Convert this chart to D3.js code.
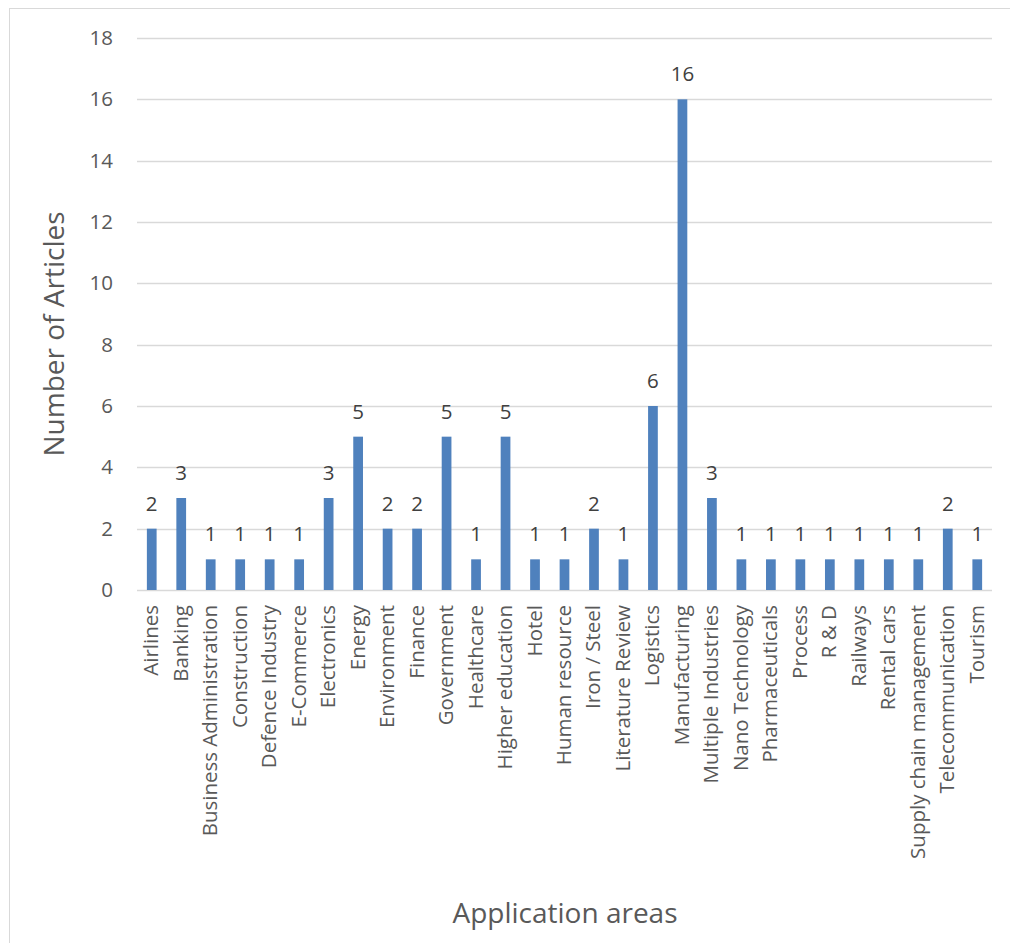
<!DOCTYPE html>
<html>
<head>
<meta charset="utf-8">
<script src="https://cdn.jsdelivr.net/npm/d3@7"></script>
<style>
  html, body { margin: 0; padding: 0; background: #fff; }
  svg { display: block; }
  text { font-family: "Open Sans", "Noto Sans", sans-serif; fill: #595959; }
</style>
</head>
<body>
<svg id="chart" width="1010" height="943"></svg>
<script>
// Application areas and the number of articles in each
const categories = [
  "Airlines", "Banking", "Business Administration", "Construction", "Defence Industry",
  "E-Commerce", "Electronics", "Energy", "Environment", "Finance", "Government",
  "Healthcare", "Higher education", "Hotel", "Human resource", "Iron / Steel",
  "Literature Review", "Logistics", "Manufacturing", "Multiple Industries",
  "Nano Technology", "Pharmaceuticals", "Process", "R & D", "Railways",
  "Rental cars", "Supply chain management", "Telecommunication", "Tourism"
];
const articles = [2, 3, 1, 1, 1, 1, 3, 5, 2, 2, 5, 1, 5, 1, 1, 2, 1, 6, 16, 3, 1, 1, 1, 1, 1, 1, 1, 2, 1];
const yTicks = [0, 2, 4, 6, 8, 10, 12, 14, 16, 18];

(function () {
  const svg = d3.select("#chart");
  const plotLeft = 137, plotRight = 992, plotTop = 38, plotBottom = 590;
  const labelSize = 20.5;

  // outer frame
  svg.append("rect")
    .attr("x", 9.5).attr("y", 8.5).attr("width", 1010).attr("height", 940)
    .attr("fill", "none").attr("stroke", "#d9d9d9").attr("stroke-width", 1);

  const x = d3.scaleBand().domain(categories).range([plotLeft, plotRight]).paddingInner(0.67).paddingOuter(0.335);
  const y = d3.scaleLinear().domain([0, 18]).range([plotBottom, plotTop]);

  // horizontal gridlines
  svg.append("g").selectAll("line").data(yTicks).join("line")
    .attr("x1", plotLeft).attr("x2", plotRight)
    .attr("y1", d => Math.round(y(d)) + 0.5).attr("y2", d => Math.round(y(d)) + 0.5)
    .attr("stroke", "#d9d9d9").attr("stroke-width", 1.3);

  // y axis labels
  const yAxis = d3.axisLeft(y).tickValues(yTicks).tickSize(0).tickPadding(24);
  const gy = svg.append("g").attr("transform", `translate(${plotLeft},0)`).call(yAxis);
  gy.attr("font-size", null).attr("font-family", null);
  gy.select(".domain").remove();
  gy.selectAll("text").style("font-size", labelSize + "px").style("fill", "#595959");

  // bars
  svg.append("g").selectAll("rect").data(articles).join("rect")
    .attr("x", (d, i) => x(categories[i]))
    .attr("width", x.bandwidth())
    .attr("y", d => y(d))
    .attr("height", d => y(0) - y(d))
    .attr("fill", "#4f81bd");

  // value labels
  svg.append("g").selectAll("text").data(articles).join("text")
    .attr("x", (d, i) => x(categories[i]) + x.bandwidth() / 2)
    .attr("y", d => y(d) - 18)
    .attr("text-anchor", "middle")
    .style("font-size", labelSize + "px")
    .style("fill", "#404040")
    .text(d => d);

  // category labels
  const xAxis = d3.axisBottom(x).tickSize(0).tickPadding(0);
  const gx = svg.append("g").attr("transform", `translate(0,${plotBottom})`).call(xAxis);
  gx.attr("font-size", null).attr("font-family", null);
  gx.select(".domain").remove();
  gx.selectAll("text")
    .style("font-size", labelSize + "px").style("fill", "#595959")
    .attr("text-anchor", "end")
    .attr("dy", null).attr("y", 0).attr("x", 0)
    .attr("transform", "translate(6.5,15) rotate(-90)");

  // axis titles
  svg.append("text")
    .attr("transform", "translate(64,334) rotate(-90)")
    .attr("text-anchor", "middle")
    .style("font-size", "28px")
    .text("Number of Articles");

  svg.append("text")
    .attr("x", 565).attr("y", 923)
    .attr("text-anchor", "middle")
    .style("font-size", "28px")
    .text("Application areas");
})();
</script>
</body>
</html>
